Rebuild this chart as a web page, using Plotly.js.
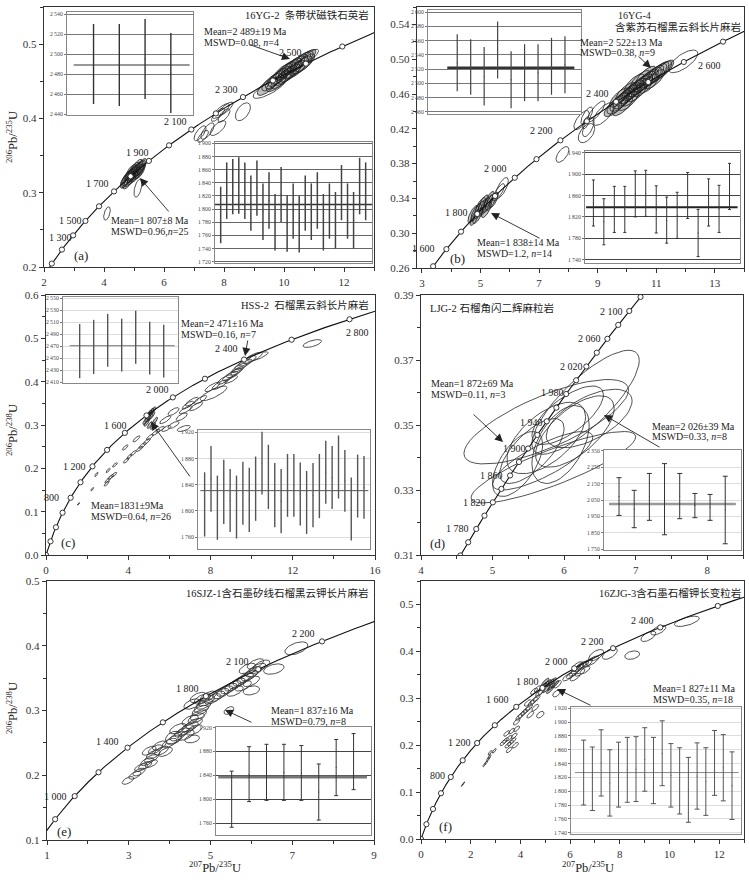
<!DOCTYPE html>
<html><head><meta charset="utf-8">
<script src="https://cdn.plot.ly/plotly-3.0.1.min.js"></script>
<style>html,body{margin:0;padding:0;background:#fff}#chart{width:749px;height:882px}</style>
</head><body><div id="chart"></div>
<script>
// ---------------- DATA ----------------
// Concordia tick ages (Ma) per panel
const agesA = [1200,1300,1400,1500,1600,1700,1800,1900,2000,2100,2200,2300,2400,2500,2600];
const agesB = [1500,1600,1700,1800,1900,2000,2100,2200,2300,2400,2500,2600,2700];
const agesC = [0,200,400,600,800,1000,1200,1400,1600,1800,2000,2200,2400,2600,2800];
const agesD = [1740,1760,1780,1800,1820,1840,1860,1880,1900,1920,1940,1960,1980,2000,2020,2040,2060,2080,2100,2120];
const agesE = [800,1000,1200,1400,1600,1800,2000,2200];
const agesF = [0,200,400,600,800,1000,1200,1400,1600,1800,2000,2200,2400,2600];

// Ellipses: [207Pb/235U, 206Pb/238U, half-width x, half-width y, rho]
const ellA_dense = [
 [9.45,0.443,0.34,0.012,0.75],[9.6,0.449,0.34,0.012,0.75],[9.7,0.452,0.32,0.012,0.75],[9.8,0.455,0.34,0.012,0.75],
 [9.9,0.458,0.34,0.012,0.75],[9.95,0.462,0.32,0.012,0.75],[10.05,0.464,0.34,0.012,0.75],[10.1,0.459,0.34,0.012,0.75],
 [10.15,0.467,0.34,0.012,0.75],[10.25,0.469,0.34,0.012,0.75],[10.3,0.465,0.32,0.012,0.75],[10.35,0.472,0.34,0.012,0.75],
 [10.45,0.474,0.34,0.012,0.75],[10.5,0.47,0.32,0.012,0.75],[10.55,0.477,0.34,0.012,0.75],[10.65,0.479,0.32,0.012,0.75],
 [10.7,0.475,0.32,0.012,0.75],[10.78,0.482,0.28,0.011,0.75],[9.75,0.448,0.34,0.012,0.75],[9.9,0.452,0.34,0.012,0.75],
 [10.2,0.461,0.34,0.012,0.75],[10.4,0.466,0.34,0.012,0.75],[10.6,0.472,0.34,0.012,0.75],[10.0,0.456,0.34,0.012,0.75],
 [4.75,0.318,0.19,0.011,0.7],[4.8,0.32,0.19,0.011,0.7],[4.85,0.322,0.19,0.011,0.7],[4.9,0.324,0.19,0.011,0.7],
 [4.95,0.325,0.19,0.011,0.7],[5.0,0.327,0.19,0.011,0.7],[5.05,0.329,0.19,0.011,0.7],[5.1,0.33,0.19,0.011,0.7],
 [5.15,0.332,0.19,0.011,0.7],[5.2,0.333,0.18,0.011,0.7],[4.85,0.318,0.18,0.01,0.7],[4.95,0.321,0.18,0.01,0.7],
 [5.05,0.324,0.18,0.01,0.7],[5.15,0.328,0.18,0.01,0.7],[5.0,0.331,0.18,0.01,0.7],[4.9,0.328,0.18,0.01,0.7],
 [5.1,0.335,0.18,0.01,0.7],[4.8,0.315,0.18,0.01,0.7],[5.2,0.329,0.17,0.01,0.7],[5.25,0.336,0.17,0.01,0.7],
 [4.7,0.316,0.16,0.01,0.7]
];
const ellA_open = [
 [9.52,0.441,0.55,0.014,0.8],[10.85,0.483,0.3,0.01,0.8],
 [7.9,0.41,0.28,0.01,0.8],[8.05,0.413,0.25,0.009,0.8],[7.8,0.405,0.22,0.009,0.8],[8.0,0.404,0.2,0.009,0.7],
 [8.63,0.409,0.25,0.012,0.5],[7.2,0.38,0.2,0.01,0.7],[7.45,0.383,0.22,0.011,0.7],[7.8,0.387,0.26,0.01,0.7],
 [7.3,0.376,0.18,0.008,0.7],[5.13,0.306,0.13,0.012,0.5],[4.1,0.272,0.11,0.009,0.5]
];
const ellB_dense = [
 [9.6,0.446,0.38,0.012,0.75],[9.7,0.449,0.38,0.012,0.75],[9.8,0.452,0.38,0.012,0.75],[9.9,0.455,0.38,0.012,0.75],
 [10.0,0.458,0.38,0.012,0.75],[10.1,0.461,0.38,0.012,0.75],[10.2,0.464,0.38,0.012,0.75],[10.3,0.466,0.38,0.012,0.75],
 [10.4,0.469,0.38,0.012,0.75],[10.5,0.471,0.38,0.012,0.75],[10.6,0.474,0.38,0.012,0.75],[10.7,0.476,0.38,0.012,0.75],
 [10.8,0.479,0.38,0.012,0.75],[10.9,0.481,0.36,0.012,0.75],[11.0,0.483,0.36,0.012,0.75],[11.1,0.485,0.33,0.012,0.75],
 [11.2,0.487,0.33,0.011,0.75],[9.75,0.456,0.34,0.011,0.75],[9.95,0.462,0.34,0.011,0.75],[10.15,0.457,0.34,0.011,0.75],
 [10.35,0.462,0.34,0.011,0.75],[10.55,0.468,0.34,0.011,0.75],[10.75,0.472,0.34,0.011,0.75],[10.95,0.477,0.34,0.011,0.75],
 [10.25,0.472,0.34,0.011,0.75],[10.45,0.476,0.34,0.011,0.75],[10.65,0.481,0.34,0.011,0.75],[9.85,0.446,0.34,0.011,0.75],
 [10.05,0.452,0.34,0.011,0.75],[11.3,0.489,0.3,0.01,0.75],
 [4.75,0.322,0.18,0.01,0.75],[4.85,0.324,0.18,0.01,0.75],[4.95,0.327,0.18,0.01,0.75],[5.05,0.329,0.18,0.01,0.75],
 [5.15,0.331,0.18,0.01,0.75],[5.25,0.334,0.18,0.01,0.75],[5.35,0.336,0.18,0.01,0.75],[5.45,0.338,0.16,0.009,0.75],
 [4.9,0.32,0.17,0.009,0.75],[5.0,0.332,0.17,0.009,0.75],[5.2,0.327,0.17,0.009,0.75],[5.3,0.339,0.17,0.009,0.75],
 [5.1,0.335,0.17,0.009,0.75],[4.8,0.318,0.16,0.009,0.75]
];
const ellB_open = [
 [11.92,0.4975,0.5,0.013,0.7],[8.45,0.43,0.26,0.011,0.7],[8.63,0.435,0.2,0.01,0.7],[8.68,0.422,0.2,0.011,0.6],
 [9.2,0.437,0.36,0.013,0.7],[8.62,0.415,0.28,0.011,0.5],[8.6,0.427,0.12,0.007,0.6],[7.8,0.3905,0.22,0.009,0.6],
 [8.95,0.44,0.3,0.012,0.8],[5.73,0.352,0.22,0.012,0.7],[5.62,0.347,0.2,0.01,0.8]
];
const ellC_dense = [
 [4.85,0.31,0.14,0.009,0.8],[4.95,0.315,0.14,0.009,0.8],[5.05,0.318,0.14,0.009,0.8],[5.15,0.322,0.14,0.009,0.8],
 [5.0,0.325,0.14,0.009,0.8],[5.1,0.33,0.14,0.009,0.8],[5.2,0.333,0.14,0.009,0.8],[4.9,0.305,0.13,0.008,0.8],
 [5.05,0.3,0.13,0.008,0.8],[5.2,0.298,0.13,0.008,0.8],[5.3,0.31,0.13,0.008,0.8],[4.95,0.322,0.13,0.008,0.8]
];
const ellC_open = [
 [1.58,0.118,0.06,0.003,0.8],[2.25,0.152,0.07,0.004,0.8],[2.45,0.186,0.08,0.005,0.8],[3.02,0.195,0.1,0.005,0.8],
 [3.35,0.208,0.12,0.005,0.8],[3.85,0.248,0.14,0.006,0.8],[3.9,0.218,0.14,0.006,0.8],[4.05,0.227,0.12,0.006,0.8],
 [4.25,0.235,0.14,0.006,0.8],[4.4,0.268,0.17,0.007,0.8],[3.0,0.172,0.14,0.006,0.8],[3.15,0.18,0.14,0.006,0.8],
 [3.3,0.185,0.14,0.006,0.8],[2.95,0.165,0.12,0.006,0.8],[4.55,0.245,0.17,0.006,0.8],[4.7,0.253,0.18,0.007,0.8],
 [4.9,0.262,0.17,0.007,0.8],[5.05,0.272,0.17,0.007,0.8],[5.35,0.283,0.2,0.007,0.8],[5.55,0.29,0.22,0.007,0.8],
 [5.85,0.292,0.22,0.007,0.7],[6.2,0.3,0.27,0.008,0.7],[6.7,0.292,0.32,0.007,0.6],[6.2,0.331,0.27,0.009,0.7],
 [6.6,0.319,0.27,0.009,0.7],[6.8,0.335,0.32,0.009,0.8],[6.9,0.346,0.27,0.009,0.8],[7.1,0.354,0.32,0.01,0.8],
 [7.5,0.358,0.32,0.01,0.8],[7.3,0.343,0.32,0.01,0.8],[8.15,0.373,0.65,0.017,0.8],[8.1,0.388,0.37,0.011,0.8],
 [8.45,0.393,0.37,0.011,0.8],[8.7,0.405,0.37,0.011,0.8],[8.95,0.413,0.37,0.011,0.8],[9.15,0.42,0.37,0.011,0.8],
 [9.4,0.432,0.37,0.011,0.8],[9.6,0.44,0.42,0.012,0.8],[9.8,0.448,0.42,0.012,0.8],[10.05,0.455,0.47,0.013,0.8],
 [10.3,0.458,0.5,0.011,0.8],[9.3,0.425,0.32,0.01,0.8],[9.0,0.405,0.32,0.009,0.8],[12.95,0.488,0.45,0.009,0.6],
 [5.8,0.312,0.27,0.009,0.8]
];
const ellD_open = [
 [5.75,0.351,1.15,0.013,0.75],[5.85,0.337,1.15,0.011,0.85],[6.3,0.357,0.75,0.016,0.8],[5.75,0.346,0.55,0.011,0.6],
 [6.05,0.353,0.5,0.009,0.7],[5.55,0.342,0.45,0.01,0.7],[6.35,0.352,0.6,0.009,0.6],[5.95,0.344,0.4,0.012,0.5],
 [5.35,0.338,0.35,0.01,0.6],[5.7,0.339,0.7,0.009,0.8],[6.15,0.348,0.55,0.011,0.65]
];
const ellE_open = [
 [2.98,0.192,0.14,0.006,0.6],[3.15,0.2,0.15,0.006,0.6],[3.25,0.205,0.15,0.006,0.6],[3.3,0.212,0.16,0.006,0.6],
 [3.4,0.215,0.16,0.006,0.6],[3.45,0.221,0.16,0.006,0.6],[3.55,0.226,0.17,0.006,0.6],[3.6,0.232,0.17,0.007,0.6],
 [3.5,0.238,0.17,0.007,0.6],[3.65,0.24,0.17,0.007,0.6],[3.8,0.238,0.17,0.007,0.6],[3.9,0.236,0.17,0.007,0.6],
 [3.75,0.246,0.17,0.007,0.6],[3.55,0.218,0.15,0.006,0.6],[4.0,0.25,0.18,0.007,0.6],[4.1,0.255,0.18,0.007,0.6],
 [4.2,0.26,0.18,0.007,0.6],[4.3,0.266,0.18,0.007,0.6],[4.4,0.27,0.2,0.008,0.6],[4.5,0.275,0.2,0.008,0.6],
 [4.6,0.28,0.2,0.008,0.6],[4.65,0.288,0.2,0.008,0.6],[4.7,0.293,0.2,0.008,0.6],[4.75,0.3,0.2,0.008,0.6],
 [4.8,0.305,0.2,0.008,0.6],[4.85,0.31,0.2,0.008,0.6],[4.9,0.315,0.2,0.008,0.6],[4.5,0.285,0.2,0.008,0.6],
 [4.4,0.262,0.2,0.008,0.6],[4.6,0.27,0.2,0.008,0.6],[4.2,0.272,0.2,0.008,0.6],[4.95,0.322,0.2,0.008,0.6],
 [4.8,0.318,0.2,0.008,0.6],[5.05,0.318,0.2,0.008,0.6],[5.15,0.322,0.2,0.008,0.6],[5.25,0.326,0.2,0.008,0.6],
 [5.35,0.33,0.2,0.008,0.6],[5.45,0.334,0.2,0.008,0.6],[5.55,0.338,0.2,0.008,0.6],[5.65,0.342,0.2,0.008,0.6],
 [5.75,0.346,0.2,0.008,0.6],[5.85,0.35,0.2,0.008,0.6],[5.95,0.354,0.2,0.008,0.6],[6.05,0.36,0.2,0.008,0.6],
 [6.15,0.365,0.2,0.008,0.6],[6.25,0.37,0.2,0.008,0.6],[5.6,0.33,0.2,0.008,0.6],[5.8,0.338,0.2,0.008,0.6],
 [6.0,0.345,0.2,0.008,0.6],[5.9,0.365,0.2,0.008,0.6],[6.1,0.372,0.2,0.008,0.6],[4.55,0.31,0.2,0.008,0.5],
 [4.7,0.32,0.2,0.008,0.5],[7.1,0.396,0.28,0.01,0.5],[6.55,0.364,0.25,0.008,0.4],[6.0,0.331,0.2,0.007,0.3],
 [5.45,0.3,0.12,0.006,0.5],[4.55,0.256,0.18,0.006,0.3],[4.1,0.258,0.2,0.01,0.3]
];
const ellF_dense = [
 [4.9,0.325,0.15,0.008,0.85],[5.0,0.328,0.15,0.008,0.85],[5.1,0.332,0.15,0.008,0.85],[5.2,0.333,0.15,0.008,0.85],
 [5.3,0.336,0.15,0.008,0.85],[5.05,0.32,0.15,0.008,0.85],[5.25,0.325,0.15,0.008,0.85],[5.4,0.33,0.15,0.008,0.85],
 [5.0,0.335,0.15,0.008,0.85],[5.2,0.318,0.15,0.008,0.85]
];
const ellF_open = [
 [1.66,0.115,0.04,0.003,0.9],[1.72,0.119,0.04,0.003,0.9],[2.55,0.158,0.06,0.004,0.8],[2.62,0.163,0.06,0.004,0.8],
 [2.7,0.17,0.07,0.005,0.8],[2.75,0.175,0.07,0.005,0.8],[2.78,0.184,0.08,0.005,0.8],[2.95,0.188,0.08,0.005,0.8],
 [3.3,0.205,0.12,0.006,0.7],[3.4,0.21,0.12,0.006,0.7],[3.5,0.2,0.12,0.006,0.7],[3.55,0.215,0.12,0.006,0.7],
 [3.6,0.205,0.12,0.006,0.7],[3.7,0.21,0.12,0.006,0.7],[3.8,0.2,0.12,0.006,0.7],[3.75,0.22,0.12,0.006,0.7],
 [3.45,0.225,0.12,0.006,0.7],[3.65,0.23,0.12,0.006,0.7],[3.55,0.19,0.12,0.006,0.7],[3.85,0.235,0.12,0.006,0.7],
 [3.85,0.25,0.13,0.007,0.7],[3.95,0.26,0.13,0.007,0.7],[4.05,0.265,0.13,0.007,0.7],[4.15,0.27,0.13,0.007,0.7],
 [4.25,0.275,0.14,0.007,0.7],[4.35,0.28,0.14,0.007,0.7],[4.45,0.29,0.14,0.007,0.7],[4.55,0.295,0.14,0.007,0.7],
 [4.65,0.3,0.14,0.007,0.7],[4.75,0.31,0.14,0.007,0.7],[4.85,0.315,0.14,0.007,0.7],[4.4,0.265,0.14,0.007,0.7],
 [4.6,0.28,0.14,0.007,0.7],[4.3,0.29,0.14,0.007,0.7],[4.8,0.265,0.15,0.007,0.5],[4.55,0.315,0.14,0.007,0.7],
 [4.7,0.32,0.14,0.007,0.7],[5.5,0.33,0.15,0.008,0.7],[5.45,0.31,0.15,0.007,0.5],
 [5.9,0.345,0.2,0.008,0.7],[6.05,0.35,0.2,0.008,0.7],[6.15,0.355,0.2,0.008,0.7],[6.25,0.36,0.2,0.008,0.7],
 [6.35,0.365,0.2,0.008,0.7],[6.45,0.37,0.2,0.008,0.7],[6.55,0.372,0.2,0.008,0.7],[6.7,0.375,0.2,0.009,0.7],
 [6.9,0.38,0.25,0.01,0.7],[6.2,0.345,0.2,0.008,0.7],[6.4,0.355,0.2,0.008,0.7],[6.6,0.36,0.2,0.008,0.7],
 [6.3,0.37,0.2,0.008,0.7],[7.05,0.392,0.3,0.012,0.6],[7.6,0.395,0.3,0.012,0.6],[8.5,0.392,0.3,0.009,0.3],
 [9.15,0.432,0.3,0.011,0.6],[9.55,0.445,0.3,0.01,0.6],[10.7,0.464,0.5,0.011,0.6],[9.1,0.267,0.3,0.005,0.3]
];

// Weighted-mean insets: ages (Ma) and 2σ errors
const insA1Ages = [2490,2489,2495,2481];
const insA1Errs = [40,41,40,40];
const insA1Mean = 2489;
const insA2Ages = [1791,1828,1834,1836,1828,1809,1832,1796,1813,1780,1822,1778,1797,1777,1809,1796,1813,1780,1797,1783,1825,1797,1783,1835,1827];
const insA2Errs = [43,43,42,43,43,42,42,43,43,43,42,43,42,43,42,43,43,43,42,43,42,42,43,43,44];
const insA2Mean = 1807;
const insB1Ages = [2529,2523,2510,2547,2505,2515,2515,2524,2526];
const insB1Errs = [40,39,41,40,40,40,40,40,40];
const insB1Mean = 2522;
const insB2Ages = [1846,1811,1834,1834,1863,1864,1834,1814,1823,1860,1790,1847,1835,1877];
const insB2Errs = [43,43,43,43,43,43,44,43,43,43,44,44,44,43];
const insB2Mean = 1838;
const insC1Ages = [2462,2469,2480,2472,2485,2467,2462];
const insC1Errs = [45,45,44,44,44,44,44];
const insC1Mean = 2471;
const insC2Ages = [1810,1849,1805,1829,1816,1806,1827,1817,1834,1873,1852,1824,1815,1839,1839,1826,1813,1824,1838,1859,1851,1867,1846,1803,1838,1836];
const insC2Errs = [49,50,49,49,48,48,48,49,49,48,49,49,49,48,48,48,48,49,49,48,48,48,47,48,48,48];
const insC2Mean = 1831;
const insDAges = [2071,1995,2069,2055,2074,2016,2005,1989];
const insDErrs = [115,114,143,217,138,74,79,206];
const insDMean = 2026;
const insEAges = [1800,1842,1845,1845,1844,1812,1853,1863];
const insEErrs = [47,46,47,47,46,47,47,47];
const insEMean = 1837;
const insFAges = [1827,1818,1841,1812,1824,1831,1832,1846,1830,1855,1823,1815,1802,1822,1814,1841,1834,1808];
const insFErrs = [47,46,48,48,47,47,47,46,48,47,46,48,47,48,49,47,48,49];
const insFMean = 1827;

// ---------------- DRAWING ----------------
const W = 749, H = 882;
const SERIF = 'Liberation Serif, "Times New Roman", serif';
const MIX = 'Liberation Serif, "Noto Sans CJK SC", serif';
const L235 = 9.8485e-4, L238 = 1.55125e-4; // decay constants per Ma
const r75 = t => Math.expm1(L235 * t);
const r68 = t => Math.expm1(L238 * t);

function dom(px, py) {
  return { x: [px[0] / W, px[1] / W], y: [1 - py[1] / H, 1 - py[0] / H] };
}
function axId(i) { return i === 1 ? ['x', 'y', 'xaxis', 'yaxis'] : ['x' + i, 'y' + i, 'xaxis' + i, 'yaxis' + i]; }

const panels = [
  { id: 1, px: [44, 374], py: [7, 267], xr: [2, 13], yr: [0.2, 0.55], xd: 2, x0: 2, xm: 1, yd: 0.1, ym: 0.05, yf: '.1f', tr: [1150, 2700], ages: agesA, open: ellA_open, dense: ellA_dense },
  { id: 2, px: [417, 744], py: [7, 268], xr: [2.83, 14], yr: [0.26, 0.56], xd: 2, x0: 3, xm: 1, yd: 0.04, ym: 0.02, yf: '.2f', tr: [1450, 2760], ages: agesB, open: ellB_open, dense: ellB_dense },
  { id: 3, px: [46, 375], py: [295, 555], xr: [0, 16], yr: [0, 0.6], xd: 4, x0: 0, xm: 2, yd: 0.1, ym: 0.05, yf: '.1f', tr: [0, 2880], ages: agesC, open: ellC_open, dense: ellC_dense },
  { id: 4, px: [421, 743], py: [295, 555], xr: [4, 8.5], yr: [0.31, 0.39], xd: 1, x0: 4, xm: 0.5, yd: 0.02, ym: 0.01, yf: '.2f', tr: [1720, 2130], ages: agesD, open: ellD_open, dense: [] },
  { id: 5, px: [47, 374], py: [581, 840], xr: [1, 9], yr: [0.1, 0.5], xd: 2, x0: 1, xm: 1, yd: 0.1, ym: 0.05, yf: '.1f', tr: [650, 2340], ages: agesE, open: ellE_open, dense: [] },
  { id: 6, px: [421, 744], py: [581, 839], xr: [0, 13], yr: [0, 0.55], xd: 2, x0: 0, xm: 1, yd: 0.1, ym: 0.05, yf: '.1f', tr: [0, 2680], ages: agesF, open: ellF_open, dense: ellF_dense }
];

const insets = [
  { id: 7, px: [67, 193], py: [12, 115], xr: [-0.03, 4.86], yr: [2439, 2542], t: [2440, 2540, 20], ages: insA1Ages, errs: insA1Errs, mean: insA1Mean, mx: [0.23, 4.73], cap: 0, bc: '#333', bw: 1.4, gc: '#777', mc: '#333', mw: 1.2 },
  { id: 8, px: [215, 372], py: [142, 263], xr: [0.06, 26.05], yr: [1718, 1902], t: [1720, 1900, 20], ages: insA2Ages, errs: insA2Errs, mean: insA2Mean, mx: [0.06, 26.05], cap: 0, bc: '#444', bw: 1.5, gc: '#666', mc: '#333', mw: 1.6 },
  { id: 9, px: [428, 581], py: [10, 114], xr: [-1.17, 10.19], yr: [2457, 2603], t: [2460, 2600, 20], ages: insB1Ages, errs: insB1Errs, mean: insB1Mean, mx: [0.26, 9.7], cap: 0, bc: '#444', bw: 1.2, gc: '#777', mc: '#333', mw: 2.5 },
  { id: 10, px: [585, 740], py: [151, 263], xr: [0.2, 15], yr: [1734, 1943], t: [1740, 1940, 40], ages: insB2Ages, errs: insB2Errs, mean: insB2Mean, mx: [0.3, 14.77], cap: 1.5, bc: '#333', bw: 1, gc: '#444', mc: '#222', mw: 2 },
  { id: 11, px: [63, 178], py: [297, 383], xr: [-0.19, 8.02], yr: [2409, 2552], t: [2410, 2550, 20], ages: insC1Ages, errs: insC1Errs, mean: insC1Mean, mx: [0.29, 7.79], cap: 0, bc: '#555', bw: 1.4, gc: '#ddd', mc: '#777', mw: 1 },
  { id: 12, px: [198, 370], py: [430, 549], xr: [-0.04, 26.94], yr: [1742, 1923.5], t: [1760, 1920, 40], ages: insC2Ages, errs: insC2Errs, mean: insC2Mean, mx: [0.33, 26.68], cap: 0, bc: '#555', bw: 1.4, gc: '#ddd', mc: '#555', mw: 1 },
  { id: 13, px: [604, 741], py: [450, 550], xr: [0.01, 9.04], yr: [1745, 2355], t: [1750, 2350, 100], ages: insDAges, errs: insDErrs, mean: insDMean, mx: [0.34, 8.7], cap: 2.5, bc: '#333', bw: 1, gc: '#ddd', mc: '#999', mw: 2.5 },
  { id: 14, px: [216, 371], py: [727, 835], xr: [0.1, 9.0], yr: [1740, 1921], t: [1760, 1920, 40], ages: insEAges, errs: insEErrs, mean: insEMean, mx: [0.23, 8.77], cap: 2, bc: '#333', bw: 1, gc: '#444', mc: '#777', mw: 3 },
  { id: 15, px: [571, 741], py: [707, 834], xr: [-0.45, 19.03], yr: [1738, 1922], t: [1740, 1920, 20], ages: insFAges, errs: insFErrs, mean: insFMean, mx: [0, 18.76], cap: 2.5, bc: '#555', bw: 1, gc: '#ddd', mc: '#888', mw: 1 }
];

const traces = [];
const layout = {
  width: W, height: H, margin: { l: 0, r: 0, t: 0, b: 0 },
  paper_bgcolor: '#fff', plot_bgcolor: '#fff', showlegend: false,
  font: { family: SERIF, color: '#222' }, annotations: []
};

function ellTrace(list, a, dense) {
  const xs = [], ys = [];
  list.forEach(e => {
    const [cx, cy, sx, sy, r] = e, s = Math.sqrt(1 - r * r);
    for (let i = 0; i <= 48; i++) {
      const t = 2 * Math.PI * i / 48;
      xs.push(cx + sx * Math.cos(t));
      ys.push(cy + sy * (r * Math.cos(t) + s * Math.sin(t)));
    }
    xs.push(null); ys.push(null);
  });
  return {
    type: 'scatter', mode: 'lines', x: xs, y: ys, xaxis: a[0], yaxis: a[1],
    line: { color: dense ? '#1e1e1e' : '#333', width: dense ? 0.8 : 0.85 },
    fill: dense ? 'toself' : 'none', fillcolor: 'rgba(40,40,40,0.3)',
    hoverinfo: 'skip', connectgaps: false
  };
}

panels.forEach(p => {
  const a = axId(p.id), d = dom(p.px, p.py);
  const axCommon = {
    showline: true, mirror: true, linecolor: '#333', linewidth: 1.3, ticks: 'outside',
    ticklen: 4, tickwidth: 1, tickcolor: '#333', showgrid: false, zeroline: false,
    tickfont: { family: SERIF, size: 11, color: '#333' }
  };
  layout[a[2]] = Object.assign({}, axCommon, {
    domain: d.x, range: p.xr, anchor: a[1], tick0: p.x0, dtick: p.xd,
    minor: { dtick: p.xm, tick0: p.x0, ticks: 'outside', ticklen: 2.5, tickcolor: '#333' }
  });
  layout[a[3]] = Object.assign({}, axCommon, {
    domain: d.y, range: p.yr, anchor: a[0], tick0: p.yr[0], dtick: p.yd, tickformat: p.yf,
    minor: { dtick: p.ym, ticks: 'outside', ticklen: 2.5, tickcolor: '#333' }
  });
  if (p.open.length) traces.push(ellTrace(p.open, a, false));
  if (p.dense.length) traces.push(ellTrace(p.dense, a, true));
  // concordia curve
  const cx = [], cy = [];
  for (let i = 0; i <= 400; i++) {
    const t = p.tr[0] + (p.tr[1] - p.tr[0]) * i / 400;
    cx.push(r75(t)); cy.push(r68(t));
  }
  traces.push({ type: 'scatter', mode: 'lines', x: cx, y: cy, xaxis: a[0], yaxis: a[1], line: { color: '#111', width: 1.1 }, hoverinfo: 'skip' });
  traces.push({
    type: 'scatter', mode: 'markers', x: p.ages.map(r75), y: p.ages.map(r68), xaxis: a[0], yaxis: a[1],
    marker: { symbol: 'circle', size: 5.2, color: '#fff', line: { color: '#222', width: 0.9 } }, hoverinfo: 'skip'
  });
});

function fmtAge(v) { const s = String(v); return s.length > 3 ? s.slice(0, s.length - 3) + '\u2009' + s.slice(-3) : s; }

insets.forEach(q => {
  const a = axId(q.id), d = dom(q.px, q.py);
  const tv = []; for (let v = q.t[0]; v <= q.t[1] + 1e-9; v += q.t[2]) tv.push(v);
  layout[a[2]] = {
    domain: d.x, range: q.xr, anchor: a[1], showline: true, mirror: true, linecolor: '#888', linewidth: 1,
    showgrid: false, zeroline: false, showticklabels: false, ticks: ''
  };
  layout[a[3]] = {
    domain: d.y, range: q.yr, anchor: a[0], showline: true, mirror: true, linecolor: '#888', linewidth: 1,
    showgrid: true, gridcolor: q.gc, gridwidth: 1, zeroline: false, tickvals: tv, ticktext: tv.map(fmtAge),
    ticks: 'outside', ticklen: 2, tickcolor: '#777', tickfont: { family: SERIF, size: 5.8, color: '#444' }
  };
  traces.push({
    type: 'scatter', mode: 'lines', x: q.mx, y: [q.mean, q.mean], xaxis: a[0], yaxis: a[1],
    line: { color: q.mc, width: q.mw }, hoverinfo: 'skip'
  });
  traces.push({
    type: 'scatter', mode: 'markers', x: q.ages.map((v, i) => i + 1), y: q.ages, xaxis: a[0], yaxis: a[1],
    marker: { size: 1, color: q.bc },
    error_y: { type: 'data', array: q.errs, visible: true, color: q.bc, thickness: q.bw, width: q.cap },
    hoverinfo: 'skip'
  });
});

// ---------------- TEXT ----------------
const ann = layout.annotations;
function txt(px, py, text, o) {
  o = o || {};
  ann.push({
    xref: 'paper', yref: 'paper', x: px / W, y: 1 - py / H, text: text, showarrow: false,
    xanchor: o.xa || 'center', yanchor: 'middle', textangle: o.rot || 0, borderpad: 0,
    font: { family: o.cjk ? MIX : SERIF, size: o.size || 10, color: '#222' }
  });
}
function arrow(hx, hy, tx, ty) {
  ann.push({
    xref: 'paper', yref: 'paper', x: hx / W, y: 1 - hy / H, ax: tx - hx, ay: ty - hy, text: '',
    showarrow: true, arrowhead: 2, arrowsize: 1.8, arrowwidth: 0.9, arrowcolor: '#222'
  });
}
// (a)
txt(370, 15, '16YG-2\u2002条带状磁铁石英岩', { xa: 'right', cjk: true, size: 10.5 });
txt(203, 31, 'Mean=2 489±19 Ma', { xa: 'left' });
txt(203, 42, 'MSWD=0.08, <i>n</i>=4', { xa: 'left' });
arrow(290, 59, 248, 44);
txt(110, 221, 'Mean=1 807±8 Ma', { xa: 'left' });
txt(110, 232, 'MSWD=0.96,<i>n</i>=25', { xa: 'left' });
arrow(140, 178, 170, 213);
txt(290, 52, '2 500'); txt(226, 89, '2 300'); txt(175, 122, '2 100'); txt(137, 153, '1 900');
txt(97, 183, '1 700'); txt(70, 220, '1 500'); txt(60, 238, '1 300');
txt(81, 255, '(a)', { size: 13 });
// (b)
txt(634, 15, '16YG-4');
txt(742, 27, '含紫苏石榴黑云斜长片麻岩', { xa: 'right', cjk: true, size: 10.5 });
txt(579, 42, 'Mean=2 522±13 Ma', { xa: 'left' });
txt(579, 53, 'MSWD=0.38, <i>n</i>=9', { xa: 'left' });
arrow(651, 68, 637, 55);
txt(476, 242, 'Mean=1 838±14 Ma', { xa: 'left' });
txt(476, 253, 'MSWD=1.2, <i>n</i>=14', { xa: 'left' });
arrow(491, 213, 541, 239);
txt(709, 66, '2 600'); txt(597, 93, '2 400'); txt(541, 131, '2 200'); txt(495, 169, '2 000');
txt(456, 213, '1 800'); txt(423, 248, '1 600');
txt(457, 258, '(b)', { size: 13 });
// (c)
txt(370, 305, 'HSS-2\u2002石榴黑云斜长片麻岩', { xa: 'right', cjk: true, size: 10.5 });
txt(180, 323, 'Mean=2 471±16 Ma', { xa: 'left' });
txt(180, 334, 'MSWD=0.16, <i>n</i>=7', { xa: 'left' });
arrow(245, 356, 248, 339);
txt(90, 505, 'Mean=1831±9Ma', { xa: 'left' });
txt(90, 516, 'MSWD=0.64, <i>n</i>=26', { xa: 'left' });
arrow(151, 422, 191, 478);
txt(357, 332, '2 800'); txt(226, 348, '2 400'); txt(157, 389, '2 000'); txt(115, 425, '1 600');
txt(74, 466, '1 200'); txt(51, 497, '800');
txt(68, 542, '(c)', { size: 13 });
// (d)
txt(429, 308, 'LJG-2 石榴角闪二辉麻粒岩', { xa: 'left', cjk: true, size: 10.5 });
txt(430, 383, 'Mean=1 872±69 Ma', { xa: 'left' });
txt(430, 394, 'MSWD=0.11, <i>n</i>=3', { xa: 'left' });
arrow(503, 442, 472, 413);
txt(651, 426, 'Mean=2 026±39 Ma', { xa: 'left' });
txt(651, 437, 'MSWD=0.33, <i>n</i>=8', { xa: 'left' });
arrow(604, 415, 661, 448);
txt(611, 311, '2 100'); txt(589, 338, '2 060'); txt(571, 366, '2 020'); txt(552, 393, '1 980');
txt(531, 422, '1 940'); txt(514, 448, '1 900'); txt(491, 475, '1 860'); txt(474, 502, '1 820');
txt(457, 528, '1 780');
txt(437, 543, '(d)', { size: 13 });
// (e)
txt(370, 593, '16SJZ-1含石墨矽线石榴黑云钾长片麻岩', { xa: 'right', cjk: true, size: 10.5 });
txt(270, 710, 'Mean=1 837±16 Ma', { xa: 'left' });
txt(270, 721, 'MSWD=0.79, <i>n</i>=8', { xa: 'left' });
arrow(225, 710, 253, 723);
txt(303, 633, '2 200'); txt(237, 661, '2 100'); txt(187, 688, '1 800'); txt(107, 741, '1 400'); txt(56, 796, '1 000');
txt(64, 831, '(e)', { size: 13 });
// (f)
txt(742, 593, '16ZJG-3含石墨石榴钾长变粒岩', { xa: 'right', cjk: true, size: 10.5 });
txt(652, 688, 'Mean=1 827±11 Ma', { xa: 'left' });
txt(652, 699, 'MSWD=0.35, <i>n</i>=18', { xa: 'left' });
arrow(557, 689, 592, 706);
txt(642, 620, '2 400'); txt(592, 641, '2 200'); txt(556, 661, '2 000'); txt(527, 681, '1 800');
txt(497, 699, '1 600'); txt(459, 742, '1 200'); txt(437, 775, '800');
txt(445, 826, '(f)', { size: 13 });
// axis titles
txt(12, 137, '<sup>206</sup>Pb/<sup>235</sup>U', { rot: -90, size: 12.5 });
txt(12, 430, '<sup>206</sup>Pb/<sup>238</sup>U', { rot: -90, size: 12.5 });
txt(12, 708, '<sup>206</sup>Pb/<sup>238</sup>U', { rot: -90, size: 12.5 });
txt(215, 867, '<sup>207</sup>Pb/<sup>235</sup>U', { size: 12.5 });
txt(588, 867, '<sup>207</sup>Pb/<sup>235</sup>U', { size: 12.5 });

Plotly.newPlot('chart', traces, layout, { staticPlot: true, displayModeBar: false });
</script></body></html>
